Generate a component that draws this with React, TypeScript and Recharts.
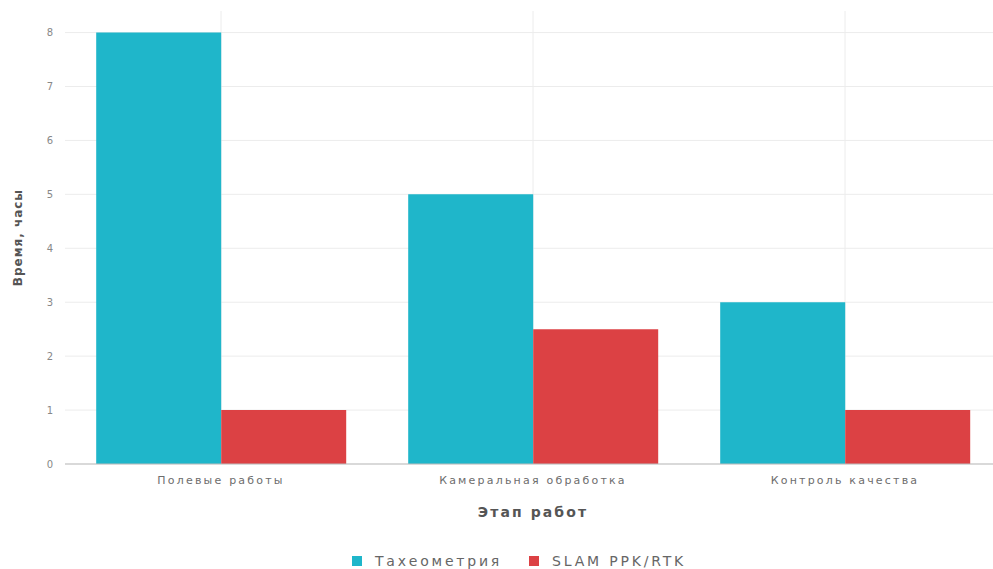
import React from 'react';
import { BarChart, Bar, XAxis, YAxis, CartesianGrid } from 'recharts';

// Stage names along the category axis
const stages = ['Полевые работы', 'Камеральная обработка', 'Контроль качества'];
// Hours spent per stage, by survey method
const totalStation = [8, 5, 3];
const slam = [1, 2.5, 1];
const yTicks = [0, 1, 2, 3, 4, 5, 6, 7, 8];
const yMax = 8.4;

const seriesNames = ['Тахеометрия', 'SLAM PPK/RTK'];
const seriesColors = ['#1fb6ca', '#dc4144'];

const data = stages.map((stage, i) => ({
  stage,
  total: totalStation[i],
  slam: slam[i],
}));

const FONT = '"DejaVu Sans", sans-serif';

// Grid lines only at the value ticks and at the category centres
const horizontalLines = ({ yAxis, offset }: any) => {
  if (yAxis && typeof yAxis.scale === 'function') return yTicks.map((t) => yAxis.scale(t));
  return yTicks.map((t) => offset.top + offset.height * (1 - t / yMax));
};
const verticalLines = ({ xAxis, offset }: any) => {
  if (xAxis && typeof xAxis.scale === 'function' && typeof xAxis.scale.bandwidth === 'function') {
    const bw = xAxis.scale.bandwidth();
    return stages.map((c) => xAxis.scale(c) + bw / 2);
  }
  return stages.map((_, i) => offset.left + (offset.width * (i + 0.5)) / stages.length);
};

export default function App() {
  return (
    <div
      style={{
        position: 'absolute',
        left: 0,
        top: 0,
        width: 993,
        height: 569,
        overflow: 'hidden',
        background: '#fff',
        fontFamily: FONT,
      }}
    >
      <BarChart
        width={1010}
        height={569}
        data={data}
        margin={{ top: 11, right: 9, bottom: 45, left: 0 }}
        barCategoryGap="10%"
        barGap={0}
      >
        <CartesianGrid
          stroke="#ececec"
          horizontalCoordinatesGenerator={horizontalLines}
          verticalCoordinatesGenerator={verticalLines}
        />
        <XAxis
          dataKey="stage"
          height={60}
          axisLine={{ stroke: '#bdbdbd' }}
          tickLine={false}
          tick={{ fill: '#6d6d6d', fontSize: 11, fontFamily: FONT, letterSpacing: 2.2 }}
          tickMargin={6}
          label={{
            value: 'Этап работ',
            position: 'insideBottom',
            offset: 7,
            style: { fill: '#555', fontSize: 14, fontWeight: 'bold', fontFamily: FONT, letterSpacing: 2.1 },
          }}
        />
        <YAxis
          width={65}
          domain={[0, yMax]}
          ticks={yTicks}
          axisLine={false}
          tickLine={false}
          tick={{ fill: '#888', fontSize: 10, fontFamily: FONT }}
          tickMargin={6}
          label={{
            value: 'Время, часы',
            angle: -90,
            position: 'insideLeft',
            offset: 18,
            style: { textAnchor: 'middle', fill: '#555', fontSize: 12, fontWeight: 'bold', fontFamily: FONT, letterSpacing: 1 },
          }}
        />
        <Bar dataKey="total" name={seriesNames[0]} fill={seriesColors[0]} isAnimationActive={false} />
        <Bar dataKey="slam" name={seriesNames[1]} fill={seriesColors[1]} isAnimationActive={false} />
      </BarChart>
      <div
        style={{
          position: 'absolute',
          top: 553,
          left: 0,
          width: 1038,
          display: 'flex',
          justifyContent: 'center',
          gap: 27,
          fontSize: 14,
          color: '#666',
          letterSpacing: 2.8,
          lineHeight: '16px',
        }}
      >
        {seriesNames.map((name, i) => (
          <div key={name} style={{ display: 'flex', alignItems: 'center' }}>
            <span
              style={{
                display: 'inline-block',
                width: 10,
                height: 10,
                background: seriesColors[i],
                marginRight: 13,
              }}
            />
            <span>{name}</span>
          </div>
        ))}
      </div>
    </div>
  );
}
